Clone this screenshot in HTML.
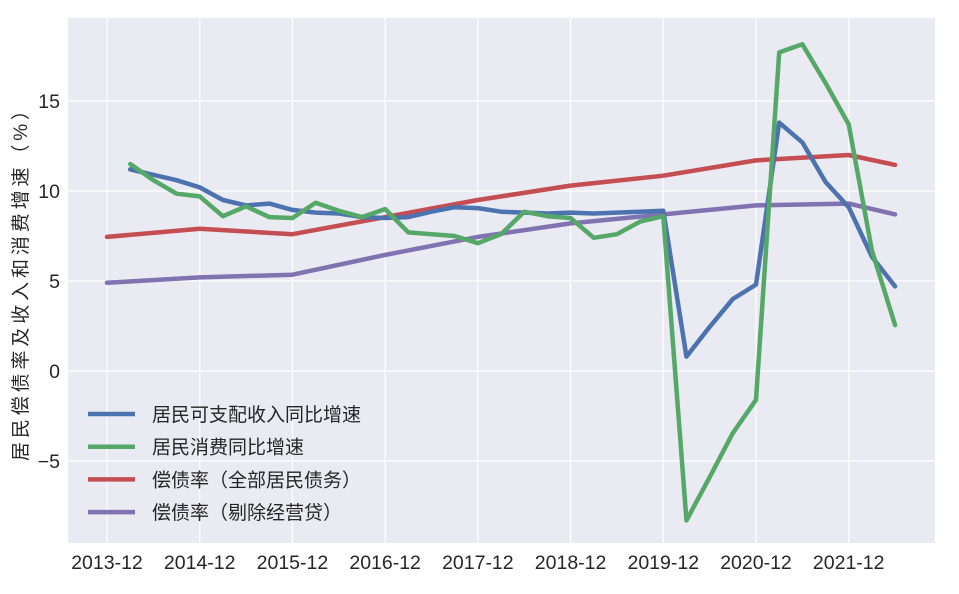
<!DOCTYPE html>
<html><head><meta charset="utf-8"><style>
body{margin:0;background:#fff;}
svg text{font-family:"Liberation Sans","Noto Sans CJK SC",sans-serif;fill:#262626;}
</style></head><body>
<svg id="chart" width="959" height="589" xmlns="http://www.w3.org/2000/svg">
<rect x="68" y="18" width="867" height="525" fill="#EAEAF2"/>
<g id="grid"></g><g id="lines"></g><g id="ticks"></g>
<text transform="translate(27,281) rotate(-90)" text-anchor="middle" font-size="19" textLength="360" lengthAdjust="spacing">居民偿债率及收入和消费增速（%）</text>
<g id="legend"></g>
</svg>
<script>
const xLabels=["2013-12","2014-12","2015-12","2016-12","2017-12","2018-12","2019-12","2020-12","2021-12"];
const yTicks=[-5,0,5,10,15];
const incomeIdx=[1,2,3,4,5,6,7,8,9,10,11,12,13,14,15,16,17,18,19,20,21,22,23,24,25,26,27,28,29,30,31,32,33,34];
const incomeVals=[11.2,10.9,10.6,10.2,9.5,9.2,9.3,8.95,8.8,8.75,8.55,8.5,8.55,8.85,9.1,9.05,8.85,8.8,8.75,8.8,8.75,8.8,8.85,8.9,0.8,2.45,4.0,4.8,13.8,12.7,10.5,9.1,6.35,4.7];
const consumeVals=[11.5,10.6,9.85,9.7,8.6,9.15,8.55,8.5,9.35,8.9,8.55,9.0,7.7,7.6,7.5,7.1,7.6,8.85,8.6,8.5,7.4,7.6,8.3,8.6,-8.3,-5.9,-3.45,-1.6,17.7,18.15,16.0,13.7,6.7,2.55];
const debtIdx=[0,4,8,12,16,20,24,28,32,34];
const debtAllVals=[7.45,7.9,7.6,8.55,9.5,10.3,10.85,11.7,12.0,11.45];
const debtExVals=[4.9,5.2,5.35,6.45,7.45,8.2,8.7,9.2,9.3,8.7];
const NS="http://www.w3.org/2000/svg";
const xs=i=>107+i*(756-107)/28;
const ys=v=>371-18*v;
function mk(tag,attrs,parent){const e=document.createElementNS(NS,tag);for(const k in attrs)e.setAttribute(k,attrs[k]);document.getElementById(parent).appendChild(e);return e;}
xLabels.forEach((l,k)=>{const x=xs(k*4);
 const g=mk('line',{x1:x,x2:x,y1:18,y2:543,stroke:'#fff','stroke-width':1.2},'grid');
 
 
 const t=mk('text',{x:x,y:569,'text-anchor':'middle','font-size':19.5},'ticks');t.textContent=l;
 
 
});
yTicks.forEach(v=>{const y=ys(v);
 const g=mk('line',{x1:68,x2:935,y1:y,y2:y,stroke:'#fff','stroke-width':1.2},'grid');
 
 
 const t=mk('text',{x:60,y:y+7,'text-anchor':'end','font-size':19.5},'ticks');t.textContent=v<0?'−'+(-v):v;
 
 
});
const series=[
 {name:'居民可支配收入同比增速',c:'#4C72B0',idx:incomeIdx,v:incomeVals,id:'series-income'},
 {name:'居民消费同比增速',c:'#55A868',idx:incomeIdx,v:consumeVals,id:'series-consumption'},
 {name:'偿债率（全部居民债务）',c:'#C44E52',idx:debtIdx,v:debtAllVals,id:'series-debt-ratio-all'},
 {name:'偿债率（剔除经营贷）',c:'#8172B2',idx:debtIdx,v:debtExVals,id:'series-debt-ratio-ex-business'}];
const order=[2,3,0,1];
order.forEach(k=>{const s=series[k];
 const p=mk('polyline',{points:s.idx.map((i,j)=>xs(i)+','+ys(s.v[j])).join(' '),fill:'none',stroke:s.c,'stroke-width':4.5,'stroke-linejoin':'round','stroke-linecap':'round'},'lines');
 
 
});
series.forEach((s,k)=>{const y=414+k*32.7;
 const l=mk('line',{x1:88,x2:135,y1:y,y2:y,stroke:s.c,'stroke-width':4.5},'legend');
 
 
 const t=mk('text',{x:152,y:y+7,'font-size':19},'legend');t.textContent=s.name;
 
 
});
</script>
</body></html>
